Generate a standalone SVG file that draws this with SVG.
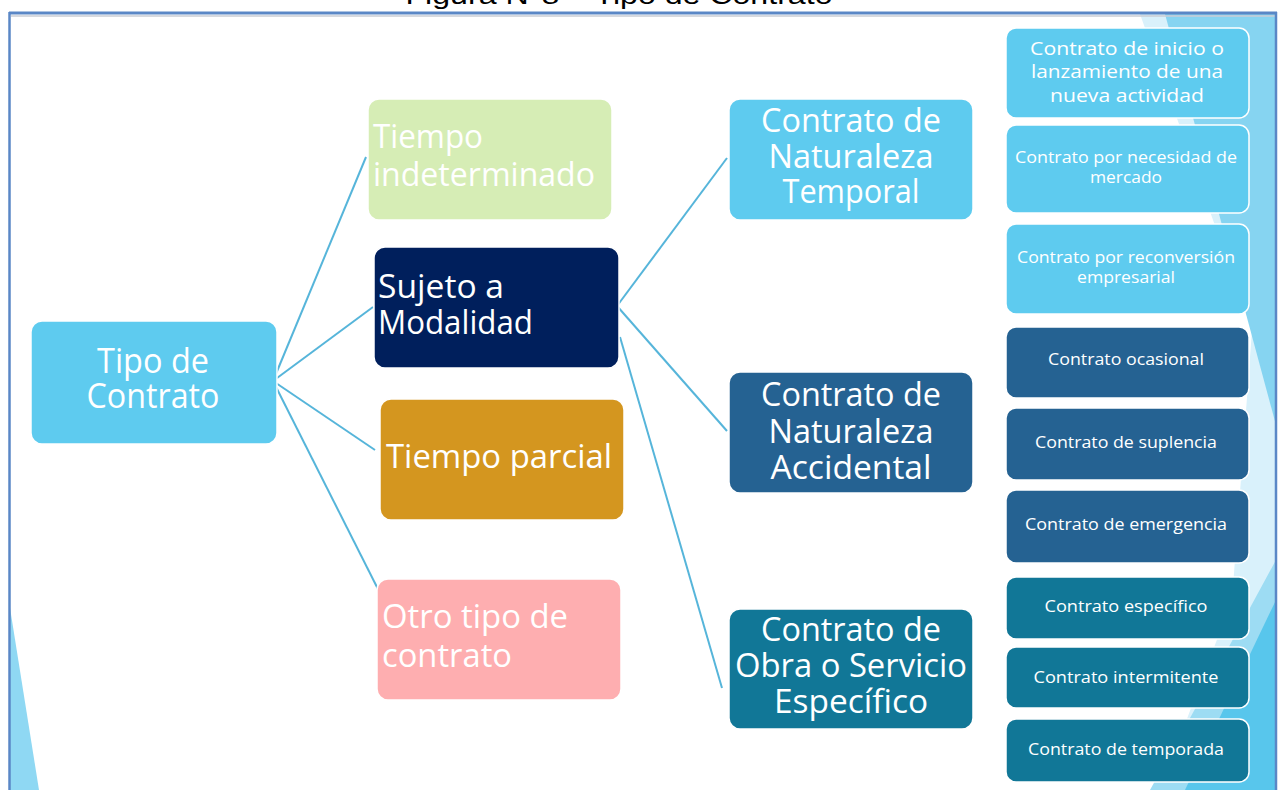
<svg xmlns="http://www.w3.org/2000/svg" width="1281" height="790" viewBox="0 0 1281 790">
<style>
.t{font-family:"Open Sans","Noto Sans","DejaVu Sans",sans-serif;fill:#ffffff;}
.big{font-size:32px;}
.root{font-size:34px;}
.sm{font-size:16.5px;}
.md{font-size:18px;}
.box{stroke:#ffffff;stroke-width:1.5;}
.conn line{stroke:#56b5da;stroke-width:2;fill:none;}
</style>
<rect x="0" y="0" width="1281" height="790" fill="#ffffff"/>
<text x="619" y="4" text-anchor="middle" textLength="427" lengthAdjust="spacingAndGlyphs" style="font-family:'Liberation Sans',Arial,sans-serif;font-size:26px;fill:#000000">Figura N°8 – Tipo de Contrato</text>
<g id="background">
<polygon points="1140,14 1276,14 1276,790 1160,790 1232,600 1252,330" fill="#d9f1fb"/>
<polygon points="1165,14 1276,14 1276,425" fill="#86d4f1"/>
<polygon points="1276,560 1276,790 1150,790 1200,700" fill="#9ddcf3"/>
<polygon points="1276,600 1276,790 1185,790" fill="#58c6ec"/>
<polygon points="10,608 39,790 10,790" fill="#8fd8f3"/>
</g>
<g id="frame">
<line x1="9" y1="13" x2="1277" y2="13" stroke="#5a87c6" stroke-width="3"/>
<line x1="11" y1="16" x2="1275" y2="16" stroke="#c8ccd4" stroke-width="1.5"/>
<line x1="9.5" y1="12" x2="9.5" y2="790" stroke="#5a87c6" stroke-width="2.5"/>
<line x1="1276" y1="12" x2="1276" y2="790" stroke="#5a87c6" stroke-width="2.5"/>
</g>
<g id="connectors" class="conn">
<line x1="273" y1="381" x2="366" y2="157"/>
<line x1="273" y1="381" x2="373" y2="307"/>
<line x1="273" y1="381" x2="375" y2="450"/>
<line x1="273" y1="381" x2="385" y2="603"/>
<line x1="617" y1="306" x2="727" y2="158"/>
<line x1="617" y1="306" x2="727" y2="431"/>
<line x1="620" y1="337" x2="722" y2="688"/>
</g>
<g id="n-root">
<rect class="box" x="31" y="321" width="246" height="123" rx="11" fill="#5ecbef"/>
<text class="t root" x="153" y="373" text-anchor="middle" textLength="112" lengthAdjust="spacingAndGlyphs">Tipo de</text>
<text class="t root" x="153" y="408" text-anchor="middle" textLength="133" lengthAdjust="spacingAndGlyphs">Contrato</text>
</g>
<g id="n-indeterminado">
<rect class="box" x="368" y="99" width="244" height="121" rx="11" fill="#d6edb5"/>
<text class="t big" x="373" y="148" textLength="110" lengthAdjust="spacingAndGlyphs">Tiempo</text>
<text class="t big" x="373" y="186" textLength="222" lengthAdjust="spacingAndGlyphs">indeterminado</text>
</g>
<g id="n-modalidad">
<rect class="box" x="374" y="247" width="245" height="121" rx="11" fill="#001f5c"/>
<text class="t big" x="378" y="298" textLength="126" lengthAdjust="spacingAndGlyphs">Sujeto a</text>
<text class="t big" x="378" y="334" textLength="155" lengthAdjust="spacingAndGlyphs">Modalidad</text>
</g>
<g id="n-parcial">
<rect class="box" x="380" y="399" width="244" height="121" rx="11" fill="#d4961f"/>
<text class="t big" x="386" y="468" textLength="226" lengthAdjust="spacingAndGlyphs">Tiempo parcial</text>
</g>
<g id="n-otro">
<rect class="box" x="377" y="579" width="244" height="121" rx="11" fill="#feaeb0"/>
<text class="t big" x="382" y="628" textLength="186" lengthAdjust="spacingAndGlyphs">Otro tipo de</text>
<text class="t big" x="382" y="667" textLength="130" lengthAdjust="spacingAndGlyphs">contrato</text>
</g>
<g id="n-temporal">
<rect class="box" x="729" y="99" width="244" height="121" rx="11" fill="#5ecbef"/>
<text class="t big" x="851" y="132" text-anchor="middle" textLength="180" lengthAdjust="spacingAndGlyphs">Contrato de</text>
<text class="t big" x="851" y="168" text-anchor="middle" textLength="165" lengthAdjust="spacingAndGlyphs">Naturaleza</text>
<text class="t big" x="851" y="203" text-anchor="middle" textLength="137" lengthAdjust="spacingAndGlyphs">Temporal</text>
</g>
<g id="n-accidental">
<rect class="box" x="729" y="372" width="244" height="121" rx="11" fill="#256292"/>
<text class="t big" x="851" y="406" text-anchor="middle" textLength="180" lengthAdjust="spacingAndGlyphs">Contrato de</text>
<text class="t big" x="851" y="443" text-anchor="middle" textLength="165" lengthAdjust="spacingAndGlyphs">Naturaleza</text>
<text class="t big" x="851" y="479" text-anchor="middle" textLength="161" lengthAdjust="spacingAndGlyphs">Accidental</text>
</g>
<g id="n-obra">
<rect class="box" x="729" y="609" width="244" height="120" rx="11" fill="#117797"/>
<text class="t big" x="851" y="641" text-anchor="middle" textLength="180" lengthAdjust="spacingAndGlyphs">Contrato de</text>
<text class="t big" x="851" y="677" text-anchor="middle" textLength="232" lengthAdjust="spacingAndGlyphs">Obra o Servicio</text>
<text class="t big" x="851" y="713" text-anchor="middle" textLength="154" lengthAdjust="spacingAndGlyphs">Específico</text>
</g>
<g id="n-inicio">
<rect class="box" x="1006" y="28" width="243" height="90" rx="10" fill="#5ecbef"/>
<text class="t md" x="1127" y="55" text-anchor="middle" textLength="194" lengthAdjust="spacingAndGlyphs">Contrato de inicio o</text>
<text class="t md" x="1127" y="78" text-anchor="middle" textLength="192" lengthAdjust="spacingAndGlyphs">lanzamiento de una</text>
<text class="t md" x="1127" y="102" text-anchor="middle" textLength="154" lengthAdjust="spacingAndGlyphs">nueva actividad</text>
</g>
<g id="n-necesidad">
<rect class="box" x="1006" y="125" width="243" height="88" rx="10" fill="#5ecbef"/>
<text class="t sm" x="1126" y="163" text-anchor="middle" textLength="222" lengthAdjust="spacingAndGlyphs">Contrato por necesidad de</text>
<text class="t sm" x="1126" y="183" text-anchor="middle" textLength="72" lengthAdjust="spacingAndGlyphs">mercado</text>
</g>
<g id="n-reconversion">
<rect class="box" x="1006" y="224" width="243" height="90" rx="10" fill="#5ecbef"/>
<text class="t sm" x="1126" y="263" text-anchor="middle" textLength="218" lengthAdjust="spacingAndGlyphs">Contrato por reconversión</text>
<text class="t sm" x="1126" y="283" text-anchor="middle" textLength="98" lengthAdjust="spacingAndGlyphs">empresarial</text>
</g>
<g id="n-ocasional">
<rect class="box" x="1006" y="327" width="243" height="71" rx="10" fill="#256292"/>
<text class="t sm" x="1126" y="365" text-anchor="middle" textLength="156" lengthAdjust="spacingAndGlyphs">Contrato ocasional</text>
</g>
<g id="n-suplencia">
<rect class="box" x="1006" y="408" width="243" height="72" rx="10" fill="#256292"/>
<text class="t sm" x="1126" y="448" text-anchor="middle" textLength="182" lengthAdjust="spacingAndGlyphs">Contrato de suplencia</text>
</g>
<g id="n-emergencia">
<rect class="box" x="1006" y="490" width="243" height="73" rx="10" fill="#256292"/>
<text class="t sm" x="1126" y="530" text-anchor="middle" textLength="202" lengthAdjust="spacingAndGlyphs">Contrato de emergencia</text>
</g>
<g id="n-especifico">
<rect class="box" x="1006" y="577" width="243" height="62" rx="10" fill="#117797"/>
<text class="t sm" x="1126" y="612" text-anchor="middle" textLength="163" lengthAdjust="spacingAndGlyphs">Contrato específico</text>
</g>
<g id="n-intermitente">
<rect class="box" x="1006" y="647" width="243" height="61" rx="10" fill="#117797"/>
<text class="t sm" x="1126" y="683" text-anchor="middle" textLength="185" lengthAdjust="spacingAndGlyphs">Contrato intermitente</text>
</g>
<g id="n-temporada">
<rect class="box" x="1006" y="719" width="243" height="63" rx="10" fill="#117797"/>
<text class="t sm" x="1126" y="755" text-anchor="middle" textLength="196" lengthAdjust="spacingAndGlyphs">Contrato de temporada</text>
</g>
</svg>
